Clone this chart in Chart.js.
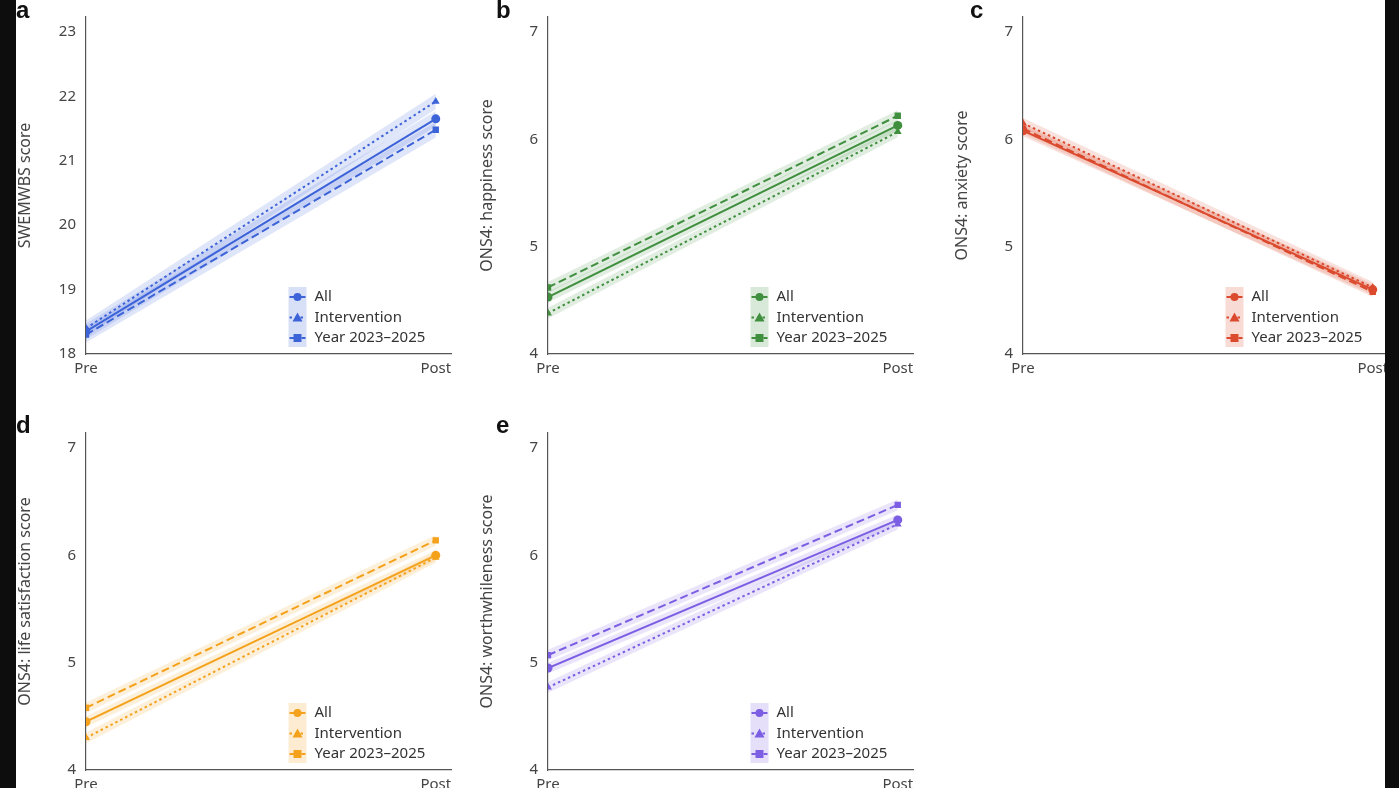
<!DOCTYPE html>
<html>
<head>
<meta charset="utf-8">
<script src="https://cdn.jsdelivr.net/npm/chart.js@4.4.1/dist/chart.umd.min.js"></script>
<style>
  body { margin: 0; background: #fff; width: 1399px; height: 788px; overflow: hidden; position: relative; font-family: 'Noto Sans', sans-serif; }
  .panel { position: absolute; width: 440px; height: 384px; }
  .tag { position: absolute; font: bold 24px 'Liberation Sans', Arial, sans-serif; color: #111; }
  .bar { position: absolute; top: 0; height: 788px; background: #0d0d0d; }
</style>
</head>
<body>
<div class="panel" style="left:16px;top:0"><canvas id="pa"></canvas></div>
<div class="panel" style="left:478px;top:0"><canvas id="pb"></canvas></div>
<div class="panel" style="left:953px;top:0"><canvas id="pc"></canvas></div>
<div class="panel" style="left:16px;top:416px"><canvas id="pd"></canvas></div>
<div class="panel" style="left:478px;top:416px"><canvas id="pe"></canvas></div>
<div class="bar" style="left:0;width:16px"></div>
<div class="bar" style="left:1385px;width:14px"></div>
<div class="tag" style="left:16px;top:-4px">a</div>
<div class="tag" style="left:496px;top:-4px">b</div>
<div class="tag" style="left:970px;top:-4px">c</div>
<div class="tag" style="left:16px;top:411px">d</div>
<div class="tag" style="left:496px;top:411px">e</div>
<script>
const timeLabels = ['Pre', 'Post'];
const seriesNames = ['All', 'Intervention', 'Year 2023\u20132025'];

// [All, Intervention, Year] each as [Pre, Post]
const swemwbs = [[18.35, 21.65], [18.40, 21.92], [18.30, 21.48]];
const happiness = [[4.53, 6.13], [4.38, 6.07], [4.62, 6.22]];
const anxiety = [[6.08, 4.60], [6.15, 4.62], [6.10, 4.58]];
const lifeSat = [[4.45, 6.00], [4.30, 5.98], [4.58, 6.14]];
const worth = [[4.95, 6.33], [4.77, 6.29], [5.07, 6.47]];

// confidence band half-widths read from the shading
const swemwbsCI = 0.12;
const onsCI = 0.05;

const ticksSwem = [18, 19, 20, 21, 22, 23];
const ticksOns = [4, 5, 6, 7];

const dashes = [[], [2.5, 3], [8, 4]];
const markers = ['circle', 'triangle', 'rect'];

function rgba(hex, a) {
  const n = parseInt(hex.slice(1), 16);
  return `rgba(${n >> 16},${(n >> 8) & 255},${n & 255},${a})`;
}

const legendPlugin = {
  id: 'insideLegend',
  afterDraw(chart) {
    const { ctx, chartArea } = chart;
    const col = chart.options.plugins.insideLegend.color;
    const x = chartArea.right - 137, y0 = chartArea.bottom - 57;
    ctx.save();
    ctx.fillStyle = rgba(col, 0.2);
    ctx.fillRect(x - 26, y0 - 10, 18, 60);
    ctx.font = "15px 'Noto Sans', sans-serif";
    ctx.textBaseline = 'middle';
    seriesNames.forEach((name, i) => {
      const y = y0 + i * 20.5;
      ctx.strokeStyle = col; ctx.fillStyle = col; ctx.lineWidth = 2;
      ctx.setLineDash(dashes[i]);
      ctx.beginPath(); ctx.moveTo(x - 25, y); ctx.lineTo(x - 9, y); ctx.stroke();
      ctx.setLineDash([]);
      ctx.beginPath();
      if (i === 0) ctx.arc(x - 17, y, 4, 0, Math.PI * 2);
      else if (i === 1) { ctx.moveTo(x - 17, y - 5); ctx.lineTo(x - 12, y + 4); ctx.lineTo(x - 22, y + 4); ctx.closePath(); }
      else ctx.rect(x - 21, y - 4, 8, 8);
      ctx.fill();
      ctx.fillStyle = '#333';
      ctx.fillText(name, x, y);
    });
    ctx.restore();
  }
};

function panel(id, data, ci, color, title, yMin, yMax, yTicks) {
  const datasets = [];
  data.forEach((s, i) => {
    datasets.push({ data: s.map((v, k) => ({ x: k, y: v - ci })), borderWidth: 0, pointRadius: 0, fill: false, order: 5 });
    datasets.push({ data: s.map((v, k) => ({ x: k, y: v + ci })), borderWidth: 0, pointRadius: 0,
      fill: '-1', backgroundColor: rgba(color, 0.16), order: 5 });
  });
  data.forEach((s, i) => {
    datasets.push({
      data: s.map((v, k) => ({ x: k, y: v })),
      borderColor: color, backgroundColor: color, borderWidth: 2, borderDash: dashes[i],
      pointStyle: markers[i], pointRadius: 4.5, pointBorderWidth: 0, fill: false, order: 1
    });
  });
  new Chart(document.getElementById(id), {
    type: 'line',
    data: { datasets },
    plugins: [legendPlugin],
    options: {
      responsive: true, maintainAspectRatio: false, animation: false,
      layout: { padding: { top: 17, right: 0 } },
      plugins: { legend: { display: false }, tooltip: { enabled: false }, insideLegend: { color } },
      scales: {
        x: {
          type: 'linear', min: 0, max: 1.045,
          afterBuildTicks: ax => { ax.ticks = [{ value: 0 }, { value: 1 }]; },
          afterFit: ax => { ax.height = 30; },
          grid: { display: false, drawTicks: true, tickLength: 6, tickColor: '#555' },
          border: { color: '#555', width: 1.2 },
          ticks: { callback: v => timeLabels[v], color: '#444', font: { size: 15, family: "'Noto Sans', sans-serif" }, padding: 0, maxRotation: 0 }
        },
        y: {
          min: yMin, max: yMax,
          afterBuildTicks: ax => { ax.ticks = yTicks.map(v => ({ value: v })); },
          afterFit: ax => { ax.width = 70; },
          grid: { display: false, tickLength: 6, tickColor: '#555' },
          border: { color: '#555', width: 1.2 },
          ticks: { color: '#444', font: { size: 15, family: "'Noto Sans', sans-serif" }, padding: 4 },
          title: { display: true, text: title, color: '#444', font: { size: 16, family: "'Noto Sans', sans-serif" }, padding: 0 }
        }
      }
    }
  });
}

panel('pa', swemwbs, swemwbsCI, '#3d63d9', 'SWEMWBS score', 18, 23.23, ticksSwem);
panel('pb', happiness, onsCI, '#3f8f3f', 'ONS4: happiness score', 4, 7.14, ticksOns);
panel('pc', anxiety, onsCI, '#db4a2e', 'ONS4: anxiety score', 4, 7.14, ticksOns);
panel('pd', lifeSat, onsCI, '#f4a21c', 'ONS4: life satisfaction score', 4, 7.14, ticksOns);
panel('pe', worth, onsCI, '#7b5ee3', 'ONS4: worthwhileness score', 4, 7.14, ticksOns);
</script>
</body>
</html>
